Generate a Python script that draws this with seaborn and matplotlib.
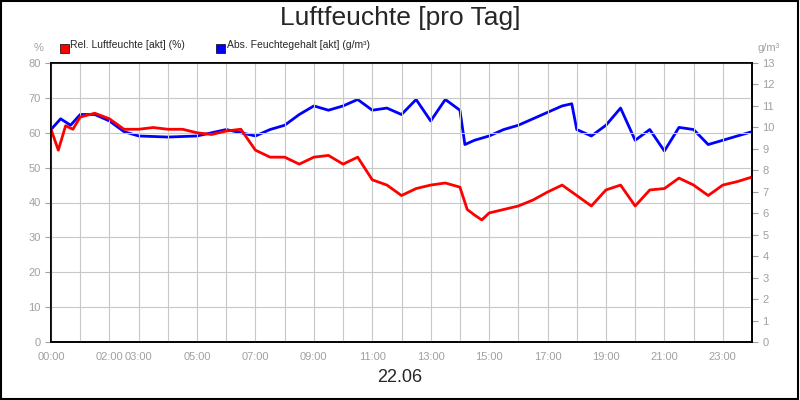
import matplotlib
matplotlib.use("Agg")
import matplotlib.pyplot as plt
import seaborn as sns
import pandas as pd
from matplotlib.patches import Rectangle

rel_t = [0,0.25,0.5,0.75,1,1.5,2,2.5,3,3.5,4,4.5,5,5.5,6,6.5,7,7.5,8,8.5,9,9.5,10,10.5,11,11.5,12,12.5,13,13.5,14,14.25,14.5,14.75,15,15.5,16,16.5,17,17.5,18,18.5,19,19.5,20,20.5,21,21.5,22,22.5,23,23.5,24]
rel_v = [61,55,62,61,64.5,65.6,64,61,61,61.5,61,61,60,59.5,60.5,61,55,53,53,51,53,53.5,51,53,46.5,45,42,44,45,45.6,44.4,38,36.4,35,37,38,39,40.7,43,45,42,39,43.6,45,39,43.6,44,47,45,42,45,46,47.3]
abs_t = [0,0.33,0.67,1,1.5,2,2.5,3,4,5,6,6.5,7,7.5,8,8.5,9,9.5,10,10.5,11,11.5,12,12.5,13,13.5,14,14.17,14.5,15,15.5,16,16.5,17,17.5,17.83,18,18.5,19,19.5,20,20.5,21,21.5,22,22.5,23,23.5,24]
abs_v = [9.9,10.4,10.1,10.6,10.6,10.3,9.8,9.6,9.55,9.6,9.9,9.75,9.6,9.9,10.1,10.6,11.0,10.8,11.0,11.3,10.8,10.9,10.6,11.3,10.3,11.3,10.8,9.2,9.4,9.6,9.9,10.1,10.4,10.7,11.0,11.1,9.9,9.6,10.1,10.9,9.4,9.9,8.9,10.0,9.9,9.2,9.4,9.6,9.8]
xtick_pos = [0,2,3,5,7,9,11,13,15,17,19,21,23]
xtick_lab = ["00:00","02:00","03:00","05:00","07:00","09:00","11:00","13:00","15:00","17:00","19:00","21:00","23:00"]

sns.set_style("white")
plt.rcParams['font.family'] = ['Liberation Sans', 'DejaVu Sans']
fig = plt.figure(figsize=(8, 4), dpi=100)
ax = fig.add_axes([51/800, 1-342/400, 701/800, 279/400])
ax2 = ax.twinx()
df1 = pd.DataFrame({"t": rel_t, "v": rel_v})
df2 = pd.DataFrame({"t": abs_t, "v": abs_v})
sns.lineplot(data=df1, x="t", y="v", ax=ax, color="#ff0000", lw=2)
sns.lineplot(data=df2, x="t", y="v", ax=ax2, color="#0000ff", lw=2)
ax.set_xlim(0, 24); ax.set_ylim(0, 80); ax2.set_ylim(0, 13)
ax.set_xticks(range(25), minor=True)
ax.set_xticks(xtick_pos); ax.set_xticklabels(xtick_lab)
ax.set_yticks(range(0, 81, 10)); ax2.set_yticks(range(0, 14))
ax.grid(True, which="both", axis="x", color="#c8c8c8", lw=0.8)
ax.grid(True, axis="y", color="#c8c8c8", lw=0.8)
ax.set_axisbelow(True)
for a in (ax, ax2):
    a.set_xlabel(""); a.set_ylabel("")
    a.tick_params(colors="#a0a0a0", labelsize=8, length=4, which="both", direction="out")
    for s in a.spines.values():
        s.set_color("black"); s.set_linewidth(1.2)
ax.tick_params(axis="x", which="both", length=4)
ax.set_zorder(ax2.get_zorder()+1); ax.patch.set_visible(False)
fig.text(0.5, 0.955, "Luftfeuchte [pro Tag]", ha="center", va="center", fontsize=19)
fig.text(0.5, 0.055, "22.06", ha="center", va="center", fontsize=13)
fig.text(43/800, 1-48/400, "%", color="#a0a0a0", fontsize=8, ha="right", va="center")
fig.text(757/800, 1-48/400, "g/m³", color="#a0a0a0", fontsize=8, ha="left", va="center")
fig.patches.append(Rectangle((60/800, 1-48/400-0.012), 0.011, 0.022, transform=fig.transFigure, facecolor="#ff0000", edgecolor="black", lw=0.5))
fig.text(70/800, 1-45/400, "Rel. Luftfeuchte [akt] (%)", fontsize=7.5, va="center")
fig.patches.append(Rectangle((216/800, 1-48/400-0.012), 0.011, 0.022, transform=fig.transFigure, facecolor="#0000ff", edgecolor="black", lw=0.5))
fig.text(227/800, 1-45/400, "Abs. Feuchtegehalt [akt] (g/m³)", fontsize=7.5, va="center")
fig.patches.append(Rectangle((0.001, 0.002), 0.997, 0.995, transform=fig.transFigure, fill=False, edgecolor="black", lw=1.5))
fig.savefig("out.png", dpi=100)
